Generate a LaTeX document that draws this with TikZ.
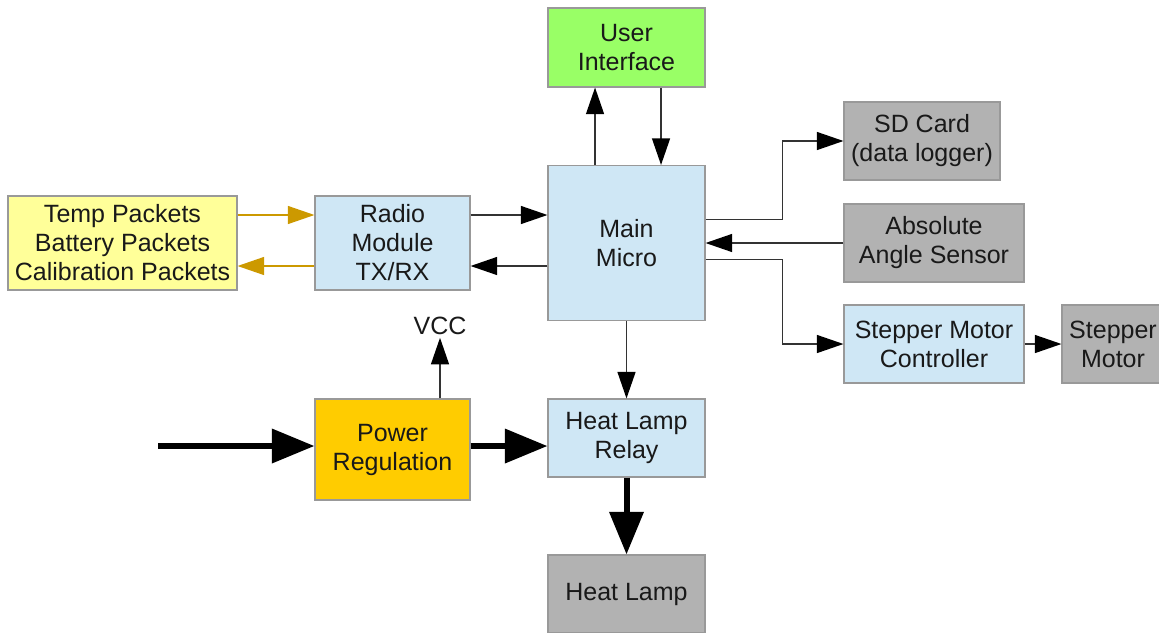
\documentclass[tikz,border=0pt]{standalone}
\usepackage{fontspec}
\setmainfont{Liberation Sans}
\usetikzlibrary{arrows.meta}

\definecolor{lblue}{HTML}{CFE7F5}
\definecolor{lgray}{HTML}{B2B2B2}
\definecolor{lyellow}{HTML}{FFFF99}
\definecolor{lorange}{HTML}{FFCC00}
\definecolor{lgreen}{HTML}{99FF66}
\definecolor{edgegray}{HTML}{999999}
\definecolor{wire}{HTML}{333333}
\definecolor{gold}{HTML}{CC9900}

\tikzset{
  blk/.style={draw=edgegray, line width=0.8pt, align=center, inner sep=0pt, text=black!90},
  sig/.style={wire, line width=1.1pt, -{Triangle[length=20pt,width=13.5pt,color=black]}},
  pkt/.style={gold, line width=1.1pt, -{Triangle[length=20pt,width=13.5pt]}},
  pwr/.style={black, line width=4.5pt, -{Triangle[length=32pt,width=25pt]}}
}

\begin{document}
\begin{tikzpicture}[x=0.75pt, y=-0.75pt, font=\fontsize{18.75}{21.75}\selectfont]
  \useasboundingbox (0,0) rectangle (1159,632);

  % Blocks
  \node[blk, fill=lyellow, minimum width=171.75pt, minimum height=70.5pt] (pkts) at (122.5,243) {Temp Packets\\Battery Packets\\Calibration Packets};
  \node[blk, fill=lblue, minimum width=116.25pt, minimum height=70.5pt] (radio) at (392.5,243) {Radio\\Module\\TX/RX};
  \node[blk, fill=lblue, minimum width=117.75pt, minimum height=116.25pt] (main) at (626.5,243) {Main\\Micro};
  \node[blk, fill=lgreen, minimum width=117.75pt, minimum height=59.25pt] (ui) at (626.5,47.5) {User\\Interface};
  \node[blk, fill=lgray, minimum width=117pt, minimum height=58.5pt] (sd) at (922,141) {SD Card\\(data logger)};
  \node[blk, fill=lgray, minimum width=135pt, minimum height=58.5pt] (angle) at (934,243) {Absolute\\Angle Sensor};
  \node[blk, fill=lblue, minimum width=135pt, minimum height=58.5pt] (ctrl) at (934,344) {Stepper Motor\\Controller};
  \node[blk, fill=lgray, minimum width=76.5pt, minimum height=58.5pt] (motor) at (1113,344) {Stepper\\Motor};
  \node[blk, fill=lorange, minimum width=116.25pt, minimum height=75.75pt] (power) at (392.5,449.5) {Power\\Regulation};
  \node[blk, fill=lblue, minimum width=117.75pt, minimum height=58.5pt] (relay) at (626.5,438) {Heat Lamp\\Relay};
  \node[blk, fill=lgray, minimum width=117.75pt, minimum height=58.5pt] (lamp) at (626.5,594) {Heat Lamp};
  \node[inner sep=2pt, text=black!90] (vcc) at (440,326) {VCC};

  % Packets <-> radio
  \draw[pkt] ([yshift=21pt]pkts.east) -- ([yshift=21pt]radio.west);
  \draw[pkt] ([yshift=-17.25pt]radio.west) -- ([yshift=-17.25pt]pkts.east);

  % Radio <-> main
  \draw[sig] ([yshift=21pt]radio.east) -- ([yshift=21pt]main.west);
  \draw[sig] ([yshift=-17.25pt]main.west) -- ([yshift=-17.25pt]radio.east);

  % Main <-> user interface
  \draw[sig] ([xshift=-23.6pt]main.north) -- ([xshift=-23.6pt]ui.south);
  \draw[sig] ([xshift=25.9pt]ui.south) -- ([xshift=25.9pt]main.north);

  % Right side
  \draw[sig] ([yshift=17.6pt]main.east) -- ++(77,0) |- (sd.west);
  \draw[sig] (angle.west) -- (angle.west -| main.east);
  \draw[sig] ([yshift=-12.4pt]main.east) -- ++(77,0) |- (ctrl.west);
  \draw[sig] (ctrl.east) -- (motor.west);

  % Power path
  \coordinate (src) at (158,446);
  \coordinate (pout) at ([yshift=2.6pt]power.east);
  \draw[sig] (main.south) -- (relay.north);
  \draw[sig] (power.north -| vcc.south) -- (vcc.south);
  \draw[pwr] (src) -- (src -| power.west);
  \draw[pwr] (pout) -- (pout -| relay.west);
  \draw[pwr] (relay.south) -- (lamp.north);
\end{tikzpicture}
\end{document}
